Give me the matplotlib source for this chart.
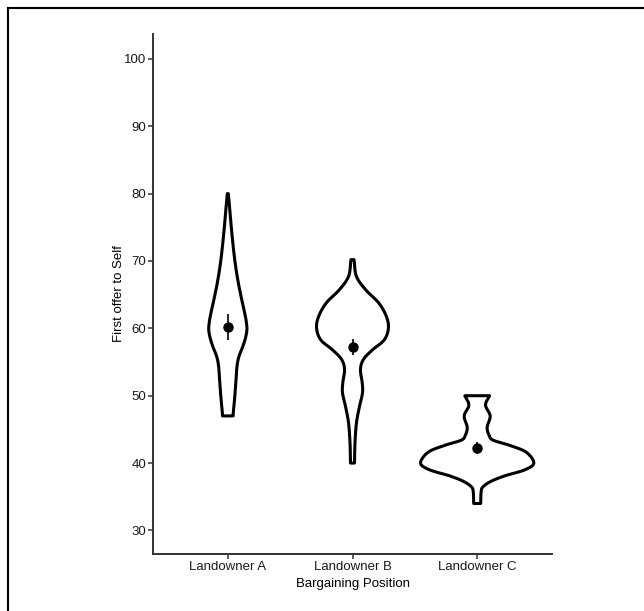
import matplotlib
matplotlib.use("Agg")
import matplotlib.pyplot as plt
import numpy as np
from matplotlib.lines import Line2D

plt.rcParams['font.family'] = ['Liberation Sans', 'DejaVu Sans']

categories = ["Landowner A", "Landowner B", "Landowner C"]
means = [60.2, 57.2, 42.2]
errs = [1.9, 1.2, 0.9]

# violin outline profiles: y values and half widths (x units)
A_y = [47.0, 47.5, 49.9, 52.4, 54.4, 55.8, 57.3, 58.6, 59.8, 61.0, 62.3, 64.75, 67.2, 69.7, 72.2, 75.0, 78.0, 80.0]
A_w = [0.043, 0.044, 0.056, 0.066, 0.074, 0.089, 0.120, 0.142, 0.153, 0.148, 0.135, 0.106, 0.080, 0.059, 0.043, 0.028, 0.014, 0.004]

B_y = [40.0, 43.0, 46.0, 48.4, 50.4, 51.9, 53.9, 55.4, 56.8, 58.3, 60.05, 61.8, 63.8, 65.7, 67.7, 70.2]
B_w = [0.016, 0.020, 0.032, 0.056, 0.080, 0.078, 0.064, 0.088, 0.160, 0.255, 0.288, 0.271, 0.209, 0.107, 0.032, 0.012]

C_y = [34.0, 35.8, 36.5, 37.3, 38.1, 39.0, 40.0, 41.6, 42.6, 43.4, 44.1, 45.3, 47.0, 48.6, 50.0]
C_w = [0.028, 0.032, 0.048, 0.112, 0.221, 0.382, 0.454, 0.394, 0.265, 0.128, 0.096, 0.080, 0.104, 0.067, 0.099]

profiles = [(A_y, A_w), (B_y, B_w), (C_y, C_w)]
yticks = [30, 40, 50, 60, 70, 80, 90, 100]


def smooth_curve(py, pw, n=12):
    """Catmull-Rom curve through the profile points (drawing only)."""
    P = np.column_stack([py, pw]).astype(float)
    P = np.vstack([P[0] * 2 - P[1], P, P[-1] * 2 - P[-2]])
    out = []
    t = np.linspace(0, 1, n, endpoint=False)[:, None]
    for i in range(1, len(P) - 2):
        p0, p1, p2, p3 = P[i - 1], P[i], P[i + 1], P[i + 2]
        seg = 0.5 * ((2 * p1) + (-p0 + p2) * t + (2 * p0 - 5 * p1 + 4 * p2 - p3) * t ** 2
                     + (-p0 + 3 * p1 - 3 * p2 + p3) * t ** 3)
        out.append(seg)
    out.append(P[-2][None, :])
    out = np.vstack(out)
    out[:, 1] = np.clip(out[:, 1], 0.002, None)
    return out[:, 0], out[:, 1]


fig = plt.figure(figsize=(6.44, 6.11), dpi=100)
ax = fig.add_axes([153/644, 57/611, (552-153)/644, (554-34)/611])

axis_col = '#333333'
for i, (py, pw) in enumerate(profiles):
    xc = i + 1
    sy, sw = smooth_curve(py, pw)
    xs = np.concatenate([xc + sw, (xc - sw)[::-1]])
    ys = np.concatenate([sy, sy[::-1]])
    ax.fill(xs, ys, facecolor='white', edgecolor='black', lw=2.2, joinstyle='round', zorder=2)

ax.errorbar([1, 2, 3], means, yerr=errs, fmt='o', color='black', ms=6.5,
            elinewidth=1.2, capsize=0, zorder=3)

ax.set_xlim(0.4, 3.6)
ax.set_ylim(26.5, 103.7)
ax.set_xticks([1, 2, 3])
ax.set_xticklabels(categories)
ax.set_yticks(yticks)
ax.set_yticklabels([str(t) for t in yticks])
for s in ['top', 'right']:
    ax.spines[s].set_visible(False)
for s in ['left', 'bottom']:
    ax.spines[s].set_color(axis_col)
    ax.spines[s].set_linewidth(1.4)
ax.tick_params(axis='both', direction='out', length=3.5, width=1.1, color=axis_col,
               labelsize=9.5, labelcolor='#1a1a1a', pad=1.5)
ax.set_xlabel("Bargaining Position", fontsize=9.5)
ax.set_ylabel("First offer to Self", fontsize=9.5)
ax.yaxis.set_label_coords((125 - 153) / 399, 0.5)
ax.xaxis.set_label_coords(0.5, -(578 - 554) / 520)

# outer frame (top and left edges visible)
fig.add_artist(Line2D([8/644, 1.0], [1 - 8/611, 1 - 8/611], transform=fig.transFigure, color='black', lw=1.5))
fig.add_artist(Line2D([8/644, 8/644], [0.0, 1 - 8/611], transform=fig.transFigure, color='black', lw=1.5))

fig.savefig("out.png", dpi=100)
